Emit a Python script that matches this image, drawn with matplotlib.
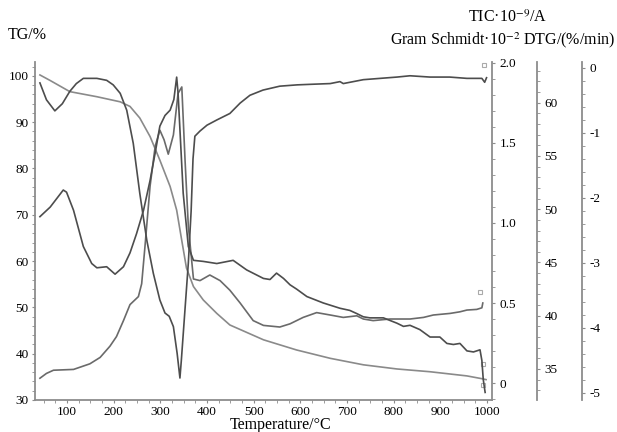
import matplotlib
matplotlib.use('Agg')
import matplotlib.pyplot as plt
from matplotlib.ticker import MultipleLocator
from matplotlib.transforms import offset_copy

plt.rcParams['font.family'] = ['Liberation Serif', 'DejaVu Serif']
plt.rcParams['mathtext.fontset'] = 'stix'
plt.rcParams['font.size'] = 9.5

# TG curve (%)
tg_temp = [42, 64, 106, 164, 214, 235, 256, 278, 299, 321, 335, 345, 356, 371, 392, 421,
           449, 521, 592, 664, 735, 807, 878, 957, 989, 998]
tg_val = [100.2, 99.0, 96.6, 95.5, 94.4, 93.4, 90.9, 86.9, 81.8, 76.1, 71.0, 65.0, 58.5,
          54.5, 51.6, 48.7, 46.2, 43.0, 40.8, 39.0, 37.6, 36.7, 36.1, 35.2, 34.6, 34.4]

# DTG curve (%/min)
dtg_temp = [42, 56, 74, 90, 106, 120, 135, 164, 185, 199, 214, 228, 242, 256, 271, 285,
            299, 310, 319, 328, 336, 342, 345, 352, 360, 366, 370, 374, 385, 400, 421, 449,
            471, 492, 520, 556, 593, 627, 664, 685, 692, 735, 771, 807, 835, 878, 920,
            957, 989, 995, 999]
dtg_val = [-0.23, -0.49, -0.66, -0.55, -0.36, -0.24, -0.16, -0.16, -0.19, -0.26, -0.39,
           -0.65, -1.16, -1.93, -2.65, -3.16, -3.57, -3.77, -3.82, -3.98, -4.39, -4.77,
           -4.5, -3.8, -3.0, -2.2, -1.4, -1.05, -0.97, -0.88, -0.80, -0.70, -0.54, -0.42,
           -0.34, -0.28, -0.26, -0.25, -0.24, -0.21, -0.24, -0.18, -0.16, -0.14, -0.12,
           -0.14, -0.14, -0.16, -0.16, -0.22, -0.15]

# Gram Schmidt curve (x10^-2)
gs_temp = [42, 64, 92, 99, 114, 135, 153, 164, 185, 203, 221, 235, 249, 264, 278, 289,
           299, 310, 321, 329, 335, 338, 349, 360, 371, 392, 421, 456, 485, 521, 535, 549,
           564, 578, 592, 614, 649, 685, 706, 721, 735, 749, 778, 807, 821, 835, 856, 878,
           899, 914, 928, 942, 957, 971, 985, 989, 992, 996]
gs_val = [49.3, 50.2, 51.8, 51.6, 49.9, 46.5, 44.9, 44.5, 44.6, 43.9, 44.6, 45.9, 47.7,
          49.9, 52.7, 55.3, 57.8, 58.8, 59.3, 60.3, 62.4, 60.9, 51.5, 46.5, 45.2, 45.1,
          44.9, 45.2, 44.3, 43.5, 43.4, 44.0, 43.5, 42.9, 42.5, 41.8, 41.2, 40.7, 40.5,
          40.2, 39.9, 39.8, 39.8, 39.3, 39.0, 39.1, 38.7, 38.0, 38.0, 37.4, 37.3, 37.4,
          36.7, 36.6, 36.8, 35.8, 34.0, 32.8]

# TIC curve (x10^-9 A)
tic_temp = [42, 56, 71, 114, 149, 171, 192, 206, 221, 235, 253, 260, 267, 278, 289, 299,
            308, 317, 328, 338, 346, 353, 360, 371, 385, 406, 428, 449, 471, 499, 521,
            556, 578, 606, 635, 664, 692, 721, 735, 756, 792, 835, 864, 885, 921, 942,
            957, 978, 989, 991]
tic_val = [0.03, 0.06, 0.08, 0.085, 0.12, 0.16, 0.23, 0.29, 0.39, 0.49, 0.54, 0.62, 0.85,
           1.23, 1.48, 1.58, 1.52, 1.43, 1.55, 1.81, 1.85, 1.39, 0.98, 0.65, 0.64, 0.675,
           0.64, 0.58, 0.50, 0.39, 0.36, 0.35, 0.37, 0.41, 0.44, 0.425, 0.41, 0.42, 0.40,
           0.39, 0.40, 0.40, 0.41, 0.425, 0.435, 0.445, 0.456, 0.46, 0.47, 0.50]

spine_c = '#8c8c8c'
dark = '#4d4d4d'
mid = '#6a6a6a'
light = '#8a8a8a'

fig = plt.figure(figsize=(6.17, 4.32), dpi=100)
ax = fig.add_axes([0.0567, 0.0741, 0.7407, 0.7824])

ax.plot(tg_temp, tg_val, color=light, lw=1.2)
ax.set_xlim(31.4, 1010.7)
ax.set_ylim(30, 103)
ax.xaxis.set_minor_locator(MultipleLocator(25))
ax.yaxis.set_major_locator(MultipleLocator(10))
ax.yaxis.set_minor_locator(MultipleLocator(2))
ax.set_xticks(range(100, 1001, 100))
ax.spines['top'].set_visible(False)
ax.spines['right'].set_visible(False)
for s in ['left', 'bottom']:
    ax.spines[s].set_color(spine_c)
    ax.spines[s].set_linewidth(1.3)
ax.tick_params(which='both', direction='out', color=spine_c, length=2.5, pad=2)

# right axes: TIC, Gram Schmidt, DTG
ax_tic = ax.twinx()
ax_gs = ax.twinx()
ax_dtg = ax.twinx()
right_axes = [(ax_tic, 1.0, (-0.106, 2.006), 0.5, 0.1),
              (ax_gs, 1.0985, (32.09, 63.82), 5, 1),
              (ax_dtg, 1.197, (-5.108, 0.092), 1, 0.2)]
for a, pos, lim, major, minor in right_axes:
    for s in ['left', 'top', 'bottom']:
        a.spines[s].set_visible(False)
    a.spines['right'].set_position(('axes', pos))
    a.spines['right'].set_color(spine_c)
    a.spines['right'].set_linewidth(1.3)
    a.set_ylim(*lim)
    a.yaxis.set_major_locator(MultipleLocator(major))
    a.yaxis.set_minor_locator(MultipleLocator(minor))
    a.tick_params(which='both', direction='out', color=spine_c, length=2.5, pad=3)

ax_tic.set_yticks([0, 0.5, 1.0, 1.5, 2.0])
ax_tic.set_yticklabels(['0', '0.5', '1.0', '1.5', '2.0'])
ax_gs.set_yticks([35, 40, 45, 50, 55, 60])
ax_dtg.set_yticks([0, -1, -2, -3, -4, -5])
ax_dtg.set_yticklabels(['0', '-1', '-2', '-3', '-4', '-5'])

ax_tic.plot(tic_temp, tic_val, color=mid, lw=1.2)
ax_gs.plot(gs_temp, gs_val, color=dark, lw=1.2)
ax_dtg.plot(dtg_temp, dtg_val, color=dark, lw=1.2)

# small end-of-curve flags
for a, t, v, dy in [(ax_dtg, dtg_temp, dtg_val, 9), (ax_tic, tic_temp, tic_val, 8),
                    (ax, tg_temp, tg_val, 11), (ax, tg_temp, tg_val, -4)]:
    tr = offset_copy(a.transData, fig=fig, x=-2, y=dy, units='points')
    a.plot(t[-1], v[-1], marker='s', ms=3.5, mfc='white', mec='#aaaaaa', mew=0.8,
           transform=tr, clip_on=False)

fig.text(0.013, 0.919, 'TG/%', fontsize=11.5, va='center', ha='left')
fig.text(0.823, 0.958, 'TIC·10$^{-9}$/A', fontsize=11.5, va='center', ha='center')
fig.text(0.997, 0.907, 'Gram Schmidt·10$^{-2}$ DTG/(%/min)', fontsize=11.5,
         va='center', ha='right')
fig.text(0.454, 0.016, 'Temperature/°C', fontsize=11.5, va='center', ha='center')

fig.savefig('out.png', dpi=100)
